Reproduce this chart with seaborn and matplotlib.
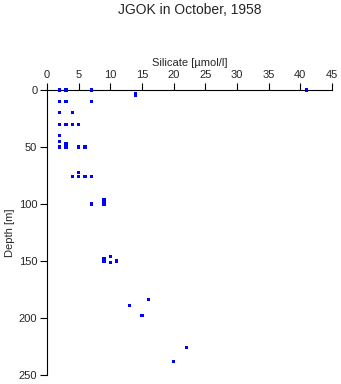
import matplotlib
matplotlib.use("Agg")
import matplotlib.pyplot as plt
import seaborn as sns
import pandas as pd

silicate = [2, 3, 7, 41, 14, 14,
            2, 3, 7,
            2, 4,
            2, 3, 4, 5,
            2, 2,
            2, 3, 3, 5, 6,
            5, 4, 5, 6, 7,
            7, 9, 9, 9,
            10, 9, 9, 10, 11,
            16, 13, 15, 22, 20]
depth = [0, 0, 0, 0, 3, 5,
         10, 10, 10,
         20, 20,
         30, 30, 30, 30,
         40, 45,
         50, 47, 50, 50, 50,
         72, 75.5, 75.5, 75.5, 75.5,
         100, 96, 98, 100,
         146, 148, 150, 151, 150,
         184, 189, 198, 225.5, 238]

df = pd.DataFrame({"Silicate": silicate, "Depth": depth})

sns.set_style("white")
plt.rcParams['font.family'] = ['Liberation Sans', 'DejaVu Sans']

fig = plt.figure(figsize=(3.41, 3.84), dpi=100)
ax = fig.add_axes([47/341, 1-375/384, 285/341, 285/384])
sns.scatterplot(data=df, x="Silicate", y="Depth", ax=ax, marker="s", color="#0000ff",
                s=5, edgecolor="none", linewidth=0, clip_on=False, zorder=5)
ax.set_xlim(0, 45)
ax.set_ylim(250, 0)
ax.set_xticks(range(0, 46, 5))
ax.set_yticks(range(0, 251, 50))
ax.xaxis.set_label_position("top")
ax.xaxis.tick_top()
ax.set_xlabel("Silicate [µmol/l]", fontsize=8, labelpad=3)
ax.set_ylabel("Depth [m]", fontsize=8, labelpad=3)
ax.tick_params(axis="both", labelsize=8, length=5, width=0.8, color="black", pad=2,
               direction="out")
ax.tick_params(axis="x", top=True, bottom=False)
ax.tick_params(axis="y", left=True, right=False)
for side in ["right", "bottom"]:
    ax.spines[side].set_visible(False)
for side in ["top", "left"]:
    ax.spines[side].set_visible(True)
    ax.spines[side].set_color("black")
    ax.spines[side].set_linewidth(0.8)
fig.text(190/341, 1-10/384, "JGOK in October, 1958", ha="center", va="center", fontsize=10)
fig.savefig("out.png", dpi=100)
